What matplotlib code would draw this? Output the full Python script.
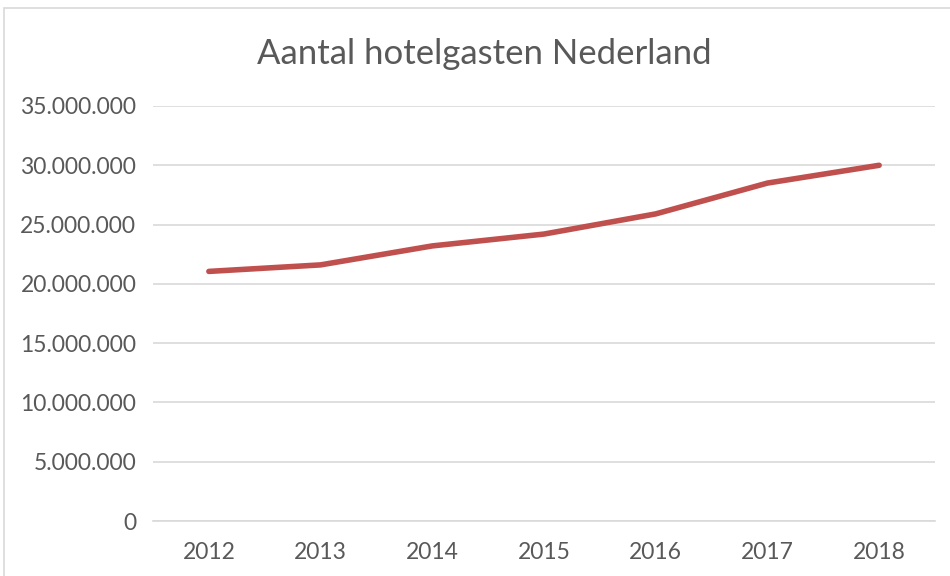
import matplotlib
matplotlib.use("Agg")
import matplotlib.pyplot as plt
from matplotlib.patches import Rectangle
from matplotlib.ticker import FuncFormatter

# Aantal hotelgasten per jaar
jaren = ['2012', '2013', '2014', '2015', '2016', '2017', '2018']
gasten = [21050000, 21600000, 23200000, 24200000, 25900000, 28500000, 30000000]

plt.rcParams['font.family'] = ['Lato', 'DejaVu Sans']

fig = plt.figure(figsize=(9.5, 5.76), dpi=100)
ax = fig.add_axes([153 / 950, 1 - 521 / 576, (935 - 153) / 950, (521 - 106) / 576])

# rand van het grafiekgebied
fig.patches.append(Rectangle((4 / 950, -0.1), 1.2, 1 - 8 / 576 + 0.1,
                             transform=fig.transFigure, fill=False,
                             edgecolor='#D9D9D9', linewidth=1.2))

x = list(range(len(jaren)))
ax.plot(x, gasten, color='#C0504D', linewidth=4.0, solid_capstyle='round',
        solid_joinstyle='round', zorder=3)

ax.set_xlim(-0.5, len(jaren) - 0.5)
ax.set_ylim(0, 35000000)
ax.set_yticks(range(0, 35000001, 5000000))
ax.yaxis.set_major_formatter(FuncFormatter(lambda v, p: f"{int(v):,}".replace(',', '.')))
ax.set_xticks(x)
ax.set_xticklabels(jaren)

ax.grid(axis='y', color='#D9D9D9', linewidth=1.2)
ax.set_axisbelow(True)
for s in ['top', 'right', 'left']:
    ax.spines[s].set_visible(False)
ax.spines['bottom'].set_color('#D9D9D9')
ax.spines['bottom'].set_linewidth(1.2)
ax.tick_params(length=0, labelsize=16.5, colors='#595959')
ax.tick_params(axis='y', pad=12)
ax.tick_params(axis='x', pad=15)

fig.text(484 / 950, 1 - 54 / 576, 'Aantal hotelgasten Nederland', ha='center',
         va='center', fontsize=25, color='#595959')

fig.savefig('out.png', dpi=100)
